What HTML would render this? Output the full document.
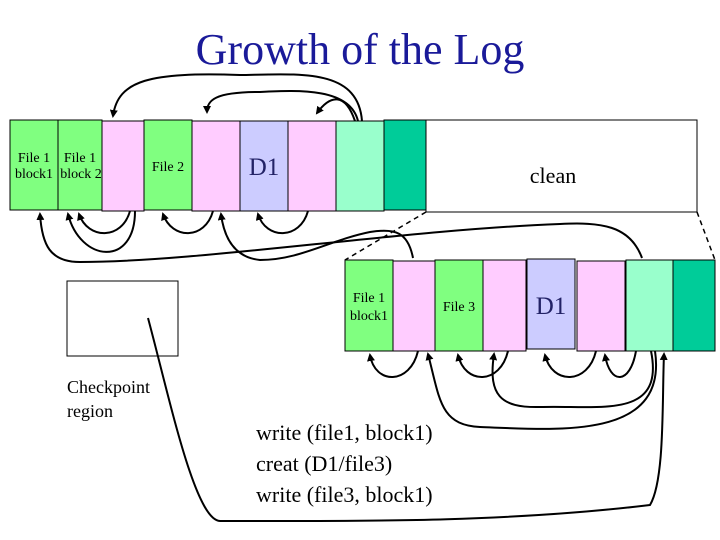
<!DOCTYPE html>
<html><head><style>body{margin:0;background:#fff}svg{display:block}text{font-family:"Liberation Serif",serif}</style></head><body>
<svg width="720" height="540" viewBox="0 0 720 540" xmlns="http://www.w3.org/2000/svg">
<defs><marker id="a" markerWidth="8" markerHeight="8" refX="6" refY="4" orient="auto" markerUnits="userSpaceOnUse"><path d="M0,0 L8,4 L0,8 Z" fill="#000"/></marker></defs>
<text x="360" y="64" text-anchor="middle" font-size="44" fill="#1a1a99">Growth of the Log</text>
<g stroke="#000" stroke-width="1">
<rect x="426" y="120" width="271" height="92" fill="#fff"/>
<rect x="10" y="120" width="48" height="90" fill="#80ff80"/>
<rect x="58" y="120" width="44" height="90" fill="#80ff80"/>
<rect x="102" y="121" width="42" height="90" fill="#ffccff"/>
<rect x="144" y="120" width="48" height="90" fill="#80ff80"/>
<rect x="192" y="121" width="48" height="90" fill="#ffccff"/>
<rect x="240" y="121" width="48" height="90" fill="#ccccff"/>
<rect x="288" y="121" width="48" height="90" fill="#ffccff"/>
<rect x="336" y="121" width="48" height="90" fill="#99ffcc"/>
<rect x="384" y="120" width="42" height="90" fill="#00cc99"/>
<rect x="345" y="260" width="48" height="91" fill="#80ff80"/>
<rect x="393" y="261" width="42" height="90" fill="#ffccff"/>
<rect x="435" y="260" width="48" height="91" fill="#80ff80"/>
<rect x="483" y="260" width="43" height="91" fill="#ffccff"/>
<rect x="527" y="259" width="48" height="90" fill="#ccccff"/>
<rect x="577" y="261" width="48" height="90" fill="#ffccff"/>
<rect x="626" y="260" width="47" height="91" fill="#99ffcc"/>
<rect x="673" y="260" width="42" height="91" fill="#00cc99"/>
<rect x="67" y="281" width="111" height="75" fill="#fff"/>
</g>
<g font-size="14" text-anchor="middle">
<text x="34" y="162">File 1</text><text x="34" y="178">block1</text>
<text x="80" y="162">File 1</text><text x="81" y="178">block 2</text>
<text x="168" y="171">File 2</text>
<text x="369" y="302">File 1</text><text x="369" y="320">block1</text>
<text x="459" y="311">File 3</text>
</g>
<text x="264" y="175" font-size="25" text-anchor="middle" fill="#222266">D1</text>
<text x="551" y="314" font-size="25" text-anchor="middle" fill="#222266">D1</text>
<text x="553" y="183" font-size="22" text-anchor="middle">clean</text>
<text x="67" y="393" font-size="18">Checkpoint</text>
<text x="67" y="417" font-size="18">region</text>
<g font-size="22"><text x="256" y="440">write (file1, block1)</text><text x="256" y="471">creat (D1/file3)</text><text x="256" y="502">write (file3, block1)</text></g>
<g fill="none" stroke="#000" stroke-width="2" marker-end="url(#a)">
<path d="M362 121 C358 68 300 74 240 75 C150 72 118 80 113 116"/>
<path d="M358 121 C350 88 300 90 260 92 C215 92 207 100 207 112"/>
<path d="M355 121 C345 92 330 95 317 113"/>
<path d="M130 211 C122 240 88 240 79 214"/>
<path d="M213 211 C205 240 172 240 163 214"/>
<path d="M308 211 C300 240 266 240 258 214"/>
<path d="M135 211 C135 268 80 262 68 214"/>
<path d="M642 258 C630 225 600 222 560 224 C400 230 200 262 80 262 C50 262 42 245 40 214"/>
<path d="M413 258 C408 232 395 228 370 232 C330 240 300 260 260 260 C240 258 225 245 221 214"/>
<path d="M418 351 C410 385 375 385 370 355"/>
<path d="M508 351 C500 385 465 385 458 355"/>
<path d="M596 351 C588 385 552 385 545 355"/>
<path d="M636 351 C630 385 610 385 605 355"/>
<path d="M651 351 C665 420 600 405 540 407 C500 408 488 395 494 354"/>
<path d="M655 351 C668 440 560 430 480 427 C440 425 440 400 428 354"/>
<path d="M148 318 C170 400 195 520 220 521 C350 521 500 523 650 505 C665 480 662 400 664 354"/>
</g>
<g stroke="#000" stroke-width="1.5" stroke-dasharray="5,4"><line x1="426" y1="212" x2="345" y2="260"/><line x1="697" y1="212" x2="715" y2="260"/></g>
</svg>
</body></html>
